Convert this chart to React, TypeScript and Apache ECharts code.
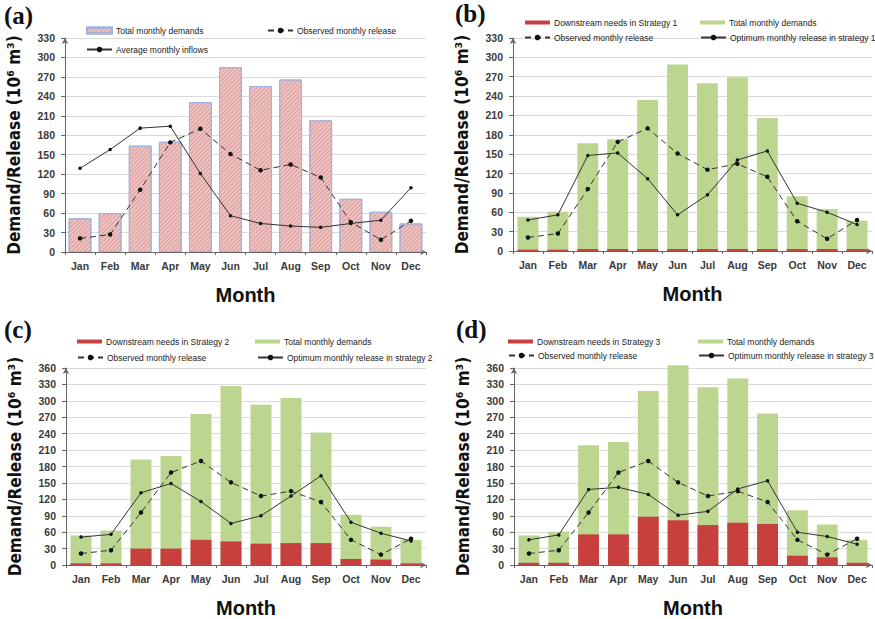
import React, { useEffect, useRef } from "react";
import * as echarts from "echarts";

const months = ["Jan", "Feb", "Mar", "Apr", "May", "Jun", "Jul", "Aug", "Sep", "Oct", "Nov", "Dec"];
const observedRelease = [21, 27, 96, 169, 190, 151, 126, 135, 115, 46, 19, 48];

const demandA = [52, 60, 164, 170, 231, 285, 256, 266, 203, 82, 62, 44];
const inflowA = [129, 158, 191, 194, 121, 56, 44, 40, 38, 44, 49, 99];

const demandB = [53, 61, 167, 173, 234, 289, 260, 269, 206, 85, 65, 47];
const downstreamB = [2, 2, 3, 3, 3, 3, 3, 3, 3, 3, 3, 3];
const optimumB = [48, 56, 148, 152, 112, 56, 87, 141, 155, 74, 60, 41];

const demandC = [54, 63, 193, 199, 276, 327, 293, 305, 242, 92, 70, 46];
const downstreamC = [3, 3, 30, 30, 46, 43, 39, 40, 40, 11, 10, 3];
const optimumC = [51, 56, 132, 149, 116, 76, 90, 126, 163, 78, 58, 44];

const demandD = [54, 61, 219, 225, 318, 365, 325, 341, 277, 100, 74, 46];
const downstreamD = [4, 4, 56, 56, 88, 82, 73, 77, 75, 17, 14, 4];
const optimumD = [46, 55, 138, 142, 129, 91, 98, 139, 154, 60, 52, 38];

const yMaxes = [330, 330, 360, 360];
const panelLabels = ["(a)", "(b)", "(c)", "(d)"];

const GREEN = "#bcd58f";
const RED = "#c8403d";
const LINE = "#333333";
const FONT = "'Liberation Sans', Arial, sans-serif";
const NARROW = "'Liberation Sans Narrow', 'DejaVu Sans Condensed', 'Liberation Sans', sans-serif";

export default function App() {
  const ref = useRef<HTMLDivElement>(null);

  useEffect(() => {
    if (!ref.current) return;
    const chart = echarts.init(ref.current, undefined, { renderer: "svg" });

    const grids = [
      { left: 65, top: 38, width: 361, height: 214 },
      { left: 513, top: 38, width: 359, height: 213 },
      { left: 66, top: 368, width: 360, height: 201 },
      { left: 514, top: 368, width: 358, height: 201 },
    ];

    const xAxes = grids.map((_, i) => ({
      type: "category",
      gridIndex: i,
      data: months,
      boundaryGap: true,
      name: "Month",
      nameLocation: "middle",
      nameGap: 33,
      nameTextStyle: { fontFamily: FONT, fontSize: 20, fontWeight: "bold", color: "#111" },
      axisLine: { show: true, lineStyle: { color: "#666", width: 1 }, symbol: ["none", "arrow"], symbolSize: [5, 6] },
      axisTick: { show: true, alignWithLabel: false, length: 3, lineStyle: { color: "#666" } },
      axisLabel: { margin: 8, fontSize: 10.5, fontWeight: "bold", color: "#3a3a3a", fontFamily: FONT },
      splitLine: { show: false },
    }));

    const yAxes = grids.map((_, i) => ({
      type: "value",
      gridIndex: i,
      min: 0,
      max: yMaxes[i],
      interval: 30,
      name: "Demand/Release (10\u2076 m\u00B3)",
      nameLocation: "middle",
      nameGap: 43,
      nameTextStyle: { fontFamily: NARROW, fontSize: 17, fontWeight: "bold", color: "#111" },
      axisLine: { show: true, lineStyle: { color: "#666", width: 1 }, symbol: ["none", "arrow"], symbolSize: [5, 6] },
      axisTick: { show: true, length: 4, lineStyle: { color: "#666" } },
      axisLabel: { margin: 10, fontSize: 10.5, fontWeight: "bold", color: "#3a3a3a", fontFamily: FONT },
      splitLine: { show: true, lineStyle: { color: "#dadada", width: 1 } },
    }));

    const observedSeries = (i: number) => ({
      name: "obs" + i,
      type: "line",
      xAxisIndex: i,
      yAxisIndex: i,
      data: observedRelease,
      symbol: "circle",
      symbolSize: 4.5,
      lineStyle: { color: LINE, width: 1, type: [6, 4] },
      itemStyle: { color: "#111" },
      z: 5,
    });
    const solidSeries = (i: number, name: string, data: number[]) => ({
      name,
      type: "line",
      xAxisIndex: i,
      yAxisIndex: i,
      data,
      symbol: "circle",
      symbolSize: 3.5,
      lineStyle: { color: LINE, width: 1 },
      itemStyle: { color: "#111" },
      z: 5,
    });
    const greenBar = (i: number, data: number[]) => ({
      name: "tot" + i,
      type: "bar",
      xAxisIndex: i,
      yAxisIndex: i,
      data,
      barCategoryGap: "30%",
      barGap: "-100%",
      clip: false,
      itemStyle: { color: GREEN },
    });
    const redBar = (i: number, data: number[]) => ({
      name: "down" + i,
      type: "bar",
      xAxisIndex: i,
      yAxisIndex: i,
      data,
      barCategoryGap: "30%",
      barGap: "-100%",
      clip: false,
      itemStyle: { color: RED },
    });

    const series: any[] = [
      {
        name: "tot0",
        type: "bar",
        xAxisIndex: 0,
        yAxisIndex: 0,
        data: demandA,
        barCategoryGap: "24%",
        itemStyle: {
          color: "#eec3c1",
          borderColor: "#9fb3e2",
          borderWidth: 1,
          decal: {
            symbol: "rect",
            symbolSize: 1,
            dashArrayX: [1, 0],
            dashArrayY: [1, 2],
            rotation: -Math.PI / 4,
            color: "rgba(170,70,70,0.3)",
          },
        },
      },
      observedSeries(0),
      solidSeries(0, "inflow0", inflowA),
      greenBar(1, demandB),
      redBar(1, downstreamB),
      observedSeries(1),
      solidSeries(1, "opt1", optimumB),
      greenBar(2, demandC),
      redBar(2, downstreamC),
      observedSeries(2),
      solidSeries(2, "opt2", optimumC),
      greenBar(3, demandD),
      redBar(3, downstreamD),
      observedSeries(3),
      solidSeries(3, "opt3", optimumD),
    ];

    const labels: Record<string, string> = {
      tot0: "Total monthly demands",
      obs0: "Observed monthly release",
      inflow0: "Average monthly inflows",
      down1: "Downstream needs in Strategy 1",
      tot1: "Total monthly demands",
      obs1: "Observed monthly release",
      opt1: "Optimum monthly release in strategy 1",
      down2: "Downstream needs in Strategy 2",
      tot2: "Total monthly demands",
      obs2: "Observed monthly release",
      opt2: "Optimum monthly release in strategy 2",
      down3: "Downstream needs in Strategy 3",
      tot3: "Total monthly demands",
      obs3: "Observed monthly release",
      opt3: "Optimum monthly release in strategy 3",
    };

    const legendItems: [string, number, number, number, string?][] = [
      ["tot0", 86, 26, 6, "rect"],
      ["obs0", 267, 26, 7],
      ["inflow0", 86, 45, 7],
      ["down1", 525, 18, 4, "rect"],
      ["tot1", 700, 18, 4, "rect"],
      ["obs1", 524, 33, 7],
      ["opt1", 700, 33, 7],
      ["down2", 77, 337, 4, "rect"],
      ["tot2", 255, 337, 4, "rect"],
      ["obs2", 77, 353, 7],
      ["opt2", 257, 353, 7],
      ["down3", 508, 337, 4, "rect"],
      ["tot3", 698, 337, 4, "rect"],
      ["obs3", 508, 351, 7],
      ["opt3", 698, 351, 7],
    ];

    const legend = legendItems.map(([name, left, top, h, icon]) => ({
      left,
      top,
      padding: 0,
      itemWidth: 25,
      itemHeight: h,
      selectedMode: false,
      data: [icon ? { name, icon } : { name }],
      formatter: (n: string) => labels[n] ?? n,
      textStyle: { fontFamily: FONT, fontSize: 8.5, color: "#222", padding: [0, 0, 0, -1] },
    }));

    const panelPos = [
      [4, 16],
      [455, 14],
      [4, 330],
      [456, 330],
    ];
    const graphic = panelLabels.map((t, i) => ({
      type: "text",
      left: panelPos[i][0],
      top: panelPos[i][1] - 13,
      style: {
        text: t,
        font: "bold 25px 'Liberation Serif', 'Times New Roman', serif",
        fill: "#111",
      },
    }));

    chart.setOption({
      animation: false,
      backgroundColor: "#ffffff",
      grid: grids,
      xAxis: xAxes,
      yAxis: yAxes,
      legend,
      graphic,
      series,
    });

    return () => chart.dispose();
  }, []);

  return (
    <div
      ref={ref}
      style={{ position: "fixed", left: 0, top: 0, width: 875, height: 619, background: "#fff" }}
    />
  );
}
